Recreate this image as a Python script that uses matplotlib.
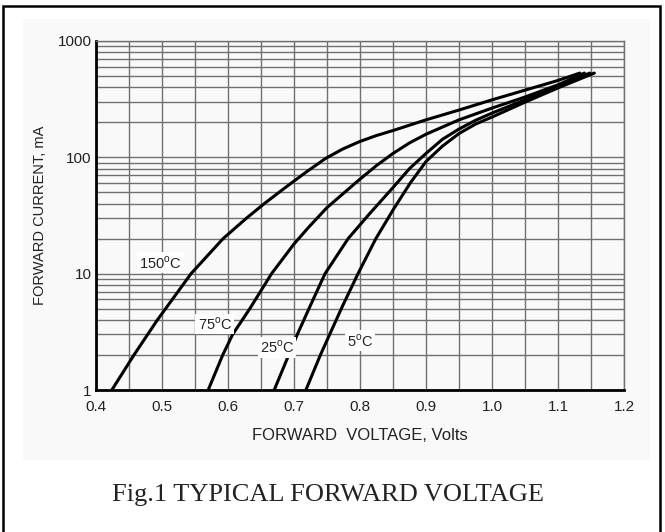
import matplotlib
matplotlib.use('Agg')
import matplotlib.pyplot as plt
from matplotlib.patches import Rectangle
from matplotlib.ticker import FixedLocator, LogLocator, NullFormatter, FixedFormatter

# forward voltage (V) / forward current (mA)
v_150 = [0.424, 0.4575, 0.493, 0.544, 0.5925, 0.628, 0.655, 0.685, 0.716, 0.748, 0.774, 0.80, 0.825, 0.85, 0.90, 0.95, 1.00, 1.05, 1.10, 1.133]
i_150 = [1, 2, 4, 10, 20, 30, 40, 54, 73, 98, 118, 137, 154, 170, 210, 255, 312, 378, 458, 530]

v_75 = [0.570, 0.592, 0.607, 0.633, 0.666, 0.700, 0.722, 0.75, 0.80, 0.825, 0.85, 0.875, 0.90, 0.95, 1.00, 1.05, 1.10, 1.14]
i_75 = [1, 2, 3, 5, 10, 18, 25, 37, 65, 85, 108, 133, 158, 210, 265, 330, 420, 530]

v_25 = [0.670, 0.692, 0.705, 0.724, 0.747, 0.782, 0.815, 0.85, 0.875, 0.90, 0.925, 0.95, 0.975, 1.00, 1.05, 1.10, 1.148]
i_25 = [1, 2, 3, 5.2, 10, 20, 33, 55, 80, 108, 143, 175, 208, 240, 312, 405, 530]

v_5 = [0.718, 0.740, 0.754, 0.774, 0.797, 0.824, 0.851, 0.876, 0.90, 0.925, 0.95, 0.975, 1.00, 1.05, 1.10, 1.155]
i_5 = [1, 2, 3, 5.34, 10, 20, 36, 60, 92, 125, 160, 193, 222, 298, 395, 530]

curve_labels = ['150', '75', '25', '5']
label_v = [0.498, 0.580, 0.674, 0.800]
label_i = [12.4, 3.7, 2.31, 2.65]

x_ticks = [0.4, 0.5, 0.6, 0.7, 0.8, 0.9, 1.0, 1.1, 1.2]
x_tick_labels = ['0.4', '0.5', '0.6', '0.7', '0.8', '0.9', '1.0', '1.1', '1.2']
x_minor = [0.45, 0.55, 0.65, 0.75, 0.85, 0.95, 1.05, 1.15]
y_ticks = [1, 10, 100, 1000]
y_tick_labels = ['1', '10', '100', '1000']

plt.rcParams['font.family'] = ['Liberation Sans', 'DejaVu Sans']

fig = plt.figure(figsize=(6.65, 5.32), dpi=100)

# faint grey panel behind the chart, and the outer frame
fig.patches.append(Rectangle((23/665, 1-460/532), (650-23)/665, (460-19)/532,
                             transform=fig.transFigure, facecolor='#f9f9f9',
                             edgecolor='none', zorder=-10))
fig.patches.append(Rectangle((3/665, -0.05), (660-3)/665, 1.05-6/532,
                             transform=fig.transFigure, fill=False,
                             edgecolor='black', lw=1.8, zorder=10))

ax = fig.add_axes([96/665, 1-390/532, (624-96)/665, (390-41)/532])
ax.set_facecolor('none')
ax.set_yscale('log')
ax.set_xlim(0.4, 1.2)
ax.set_ylim(1, 1000)

ax.xaxis.set_major_locator(FixedLocator(x_ticks))
ax.xaxis.set_major_formatter(FixedFormatter(x_tick_labels))
ax.xaxis.set_minor_locator(FixedLocator(x_minor))
ax.yaxis.set_major_locator(FixedLocator(y_ticks))
ax.yaxis.set_major_formatter(FixedFormatter(y_tick_labels))
ax.yaxis.set_minor_locator(LogLocator(base=10, subs=range(2, 10)))
ax.yaxis.set_minor_formatter(NullFormatter())

ax.grid(which='both', color='#707070', lw=1.0)
ax.set_axisbelow(True)
ax.tick_params(which='both', length=0, labelsize=11, colors='#222222')
ax.tick_params(axis='x', pad=7)
ax.tick_params(axis='y', pad=3)

for s in ['top', 'right']:
    ax.spines[s].set_color('#707070')
    ax.spines[s].set_linewidth(1.0)
for s in ['left', 'bottom']:
    ax.spines[s].set_color('black')
    ax.spines[s].set_linewidth(2.0)

for v, i in [(v_150, i_150), (v_75, i_75), (v_25, i_25), (v_5, i_5)]:
    ax.plot(v, i, color='black', lw=2.2, solid_capstyle='round',
            solid_joinstyle='round', zorder=3)

for t, x, y in zip(curve_labels, label_v, label_i):
    ax.text(x, y, t + r'$^\mathregular{o}$C', ha='center', va='center',
            fontsize=10.5, color='#222222', zorder=5,
            bbox=dict(facecolor='white', edgecolor='none', pad=1.5))

ax.set_xlabel('FORWARD  VOLTAGE, Volts', fontsize=12, labelpad=10, color='#222222')
ax.set_ylabel('FORWARD CURRENT, mA', fontsize=10.5, labelpad=8, color='#222222')

fig.text(0.493, 1-495/532, 'Fig.1 TYPICAL FORWARD VOLTAGE', family='Liberation Serif',
         fontsize=19, ha='center', va='center', color='#222222')

fig.savefig('out.png', dpi=100)
